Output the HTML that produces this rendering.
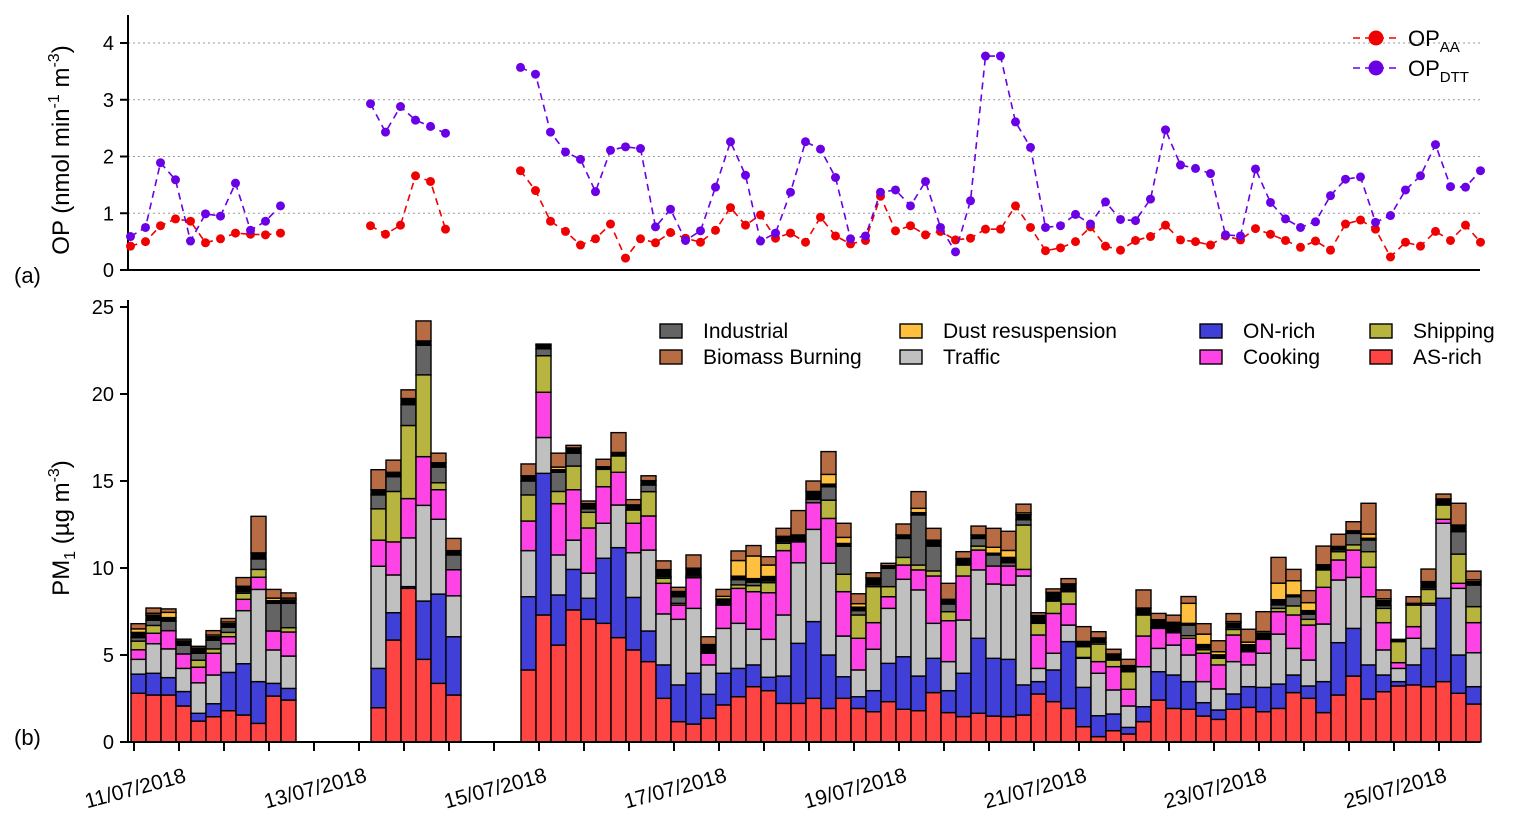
<!DOCTYPE html>
<html><head><meta charset="utf-8">
<style>
html,body{margin:0;padding:0;background:#fff;}
svg{display:block;font-family:"Liberation Sans",Arial,sans-serif;}
</style></head>
<body>
<svg id="chart" width="1522" height="826" viewBox="0 0 1522 826" xmlns="http://www.w3.org/2000/svg">
  <g id="panelA"></g>
  <g id="panelB"></g>
  <text x="14" y="283" font-size="22">(a)</text>
  <text x="14" y="745" font-size="22">(b)</text>
  <text transform="translate(69,150) rotate(-90)" text-anchor="middle" font-size="24">OP (nmol min<tspan dy="-10" font-size="16">-1</tspan><tspan dy="10"> m</tspan><tspan dy="-10" font-size="16">-3</tspan><tspan dy="10">)</tspan></text>
  <text transform="translate(69,528) rotate(-90)" text-anchor="middle" font-size="24">PM<tspan dy="6" font-size="16">1</tspan><tspan dy="-6"> (µg m</tspan><tspan dy="-10" font-size="16">-3</tspan><tspan dy="10">)</tspan></text>
</svg>
<script>
// ---------- data ----------
const barSlots = [0,1,2,3,4,5,6,7,8,9,10,16,17,18,19,20,21].concat(Array.from({length:64},(_,i)=>26+i));
const asRich = [2.8,2.7,2.7,2.07,1.2,1.45,1.8,1.55,1.07,2.64,2.41,
 1.97,5.86,8.83,4.75,3.37,2.7,
 4.14,7.3,5.57,7.59,7.05,6.82,6.0,5.29,4.62,2.51, 1.17,1.03,1.36,2.13,2.6,3.18,2.95,2.22,2.22,2.51, 1.93,2.51,1.93,1.74,2.32,1.88,1.8,2.84,1.69,1.46, 1.65,1.49,1.46,1.55,2.76,2.32,1.93,0.88,0.31,0.65, 0.46,1.17,2.41,1.93,1.88,1.49,1.3,1.88,1.99,1.74, 1.93,2.84,2.51,1.69,2.7,3.79,2.47,2.89,3.22,3.28, 3.18,3.47,2.8,2.18];
const onRich = [1.1,1.25,1.0,0.83,0.45,0.75,2.2,2.95,2.4,0.73,0.67,
 2.26,1.57,0.1,3.35,5.13,3.35,
 4.21,8.14,2.88,2.33,1.21,3.74,5.17,3.02,1.76,1.92, 2.11,2.92,1.38,1.82,1.63,1.25,0.77,1.57,3.45,4.41, 3.07,1.24,0.67,1.21,2.2,3.02,1.99,1.97,1.26,2.49, 4.31,3.32,3.29,1.73,0.71,1.82,3.84,2.26,1.2,0.96, 0.38,0.86,1.63,1.92,1.59,0.77,0.54,0.88,1.19,1.4, 1.4,1.01,0.71,1.78,3.01,2.74,1.96,0.96,0.25,1.15, 2.2,4.79,2.2,1.0];
const traffic = [0.85,1.7,1.65,1.33,1.75,1.65,1.65,3.05,5.3,1.92,1.86,
 5.87,2.17,2.8,5.5,4.3,2.35,
 2.65,2.06,2.3,1.68,1.44,2.01,2.45,2.57,4.65,2.93, 3.77,3.73,1.69,2.58,2.59,2.05,2.18,3.51,4.63,5.3, 5.27,2.34,1.54,2.38,3.16,4.45,4.95,2.01,1.67,3.06, 3.93,4.27,4.27,6.26,0.76,0.96,0.95,1.67,2.44,1.38, 1.23,2.3,1.34,1.72,1.53,1.21,1.21,1.86,1.25,1.96, 2.87,1.53,1.49,3.31,3.6,2.93,3.92,1.44,0.76,1.53, 2.49,4.31,3.83,1.95];
const cooking = [0.55,0.6,1.05,0.83,0.9,1.25,0.4,0.65,0.7,1.09,1.38,
 1.5,1.9,2.26,2.8,1.7,1.5,
 1.7,2.6,2.95,2.9,2.6,2.1,1.88,1.69,1.96,1.76, 0.82,1.76,0.67,1.34,2.01,2.16,2.68,3.7,1.2,1.53, 2.58,2.55,1.82,1.53,0.67,0.82,1.15,2.72,2.35,2.53, 1.14,1.03,1.09,0.38,1.92,2.29,1.21,0.05,0.67,1.34, 0.96,1.76,1.15,0.71,0.96,1.63,1.38,1.53,0.76,0.8, 1.29,1.92,2.01,2.11,1.15,1.57,1.69,1.57,0.33,0.67, 0.1,0.23,0.29,1.73];
const shipping = [0.5,0.45,0,0,0.4,0.25,0.25,0.35,0.45,0,0.25,
 1.8,2.9,4.2,4.7,0.4,0,
 1.5,2.1,0.7,1.36,0.9,1.0,0.94,0.76,1.4,0.29, 0.1,0.05,0,0,0.2,0.35,0.58,0.42,0,0, 1.05,1.0,1.34,2.07,0.58,0.44,0.28,0.29,0.52,0.63, 0.23,0,0,2.55,0.67,0.71,0.71,0.62,1.01,0.38, 1.01,1.21,0.05,0,0.15,0.2,0.38,0.32,0,0, 0.19,0.52,0.33,1.0,0.48,0.3,0.9,0.82,1.21,1.24, 0.8,0.82,1.68,0.92];
const industrial = [0.2,0.3,0.55,0.5,0.4,0.5,0.3,0.1,0.6,1.59,1.4,
 0.8,0.85,1.2,1.7,0.9,0.85,
 0.8,0.4,1.1,0.74,0.2,0,0,0,0.38,0.1, 0.38,0.1,0,0,0.3,0.2,0.1,0.1,0,0.2, 0.77,1.62,0.25,0.1,1.05,1.09,2.88,1.43,0.44,0, 0.44,0.64,0.2,0.3,0,0,0,0,0.1,0, 0,0,0.05,0,0.61,0.1,0,0.1,0,0, 0.2,0.53,0.3,0,0.1,0.66,0.67,0.15,0,0, 0.1,0,1.29,1.24];
const otherBlack = [0.3,0.3,0.2,0.2,0.3,0.2,0.2,0.3,0.35,0.15,0.2,
 0.3,0.25,0.35,0.25,0.25,0.25,
 0.3,0.2,0.15,0.3,0.3,0.15,0.2,0.3,0.25,0.4, 0.3,0.4,0.5,0.35,0.2,0.2,0.25,0.3,0.4,0.45, 0.15,0.15,0.2,0.4,0.15,0.2,0.13,0.34,0.27,0.38, 0.2,0.1,0.3,0.3,0.45,0.5,0.45,0.3,0.25,0.35, 0.35,0.4,0.4,0.6,0.1,0.2,0.2,0.25,0.4,0.35, 0.3,0.1,0.2,0.3,0.2,0.15,0.1,0.3,0.1,0.1, 0.35,0.35,0.38,0.2];
const dust = [0.2,0.1,0.3,0.05,0,0.1,0.1,0,0,0.15,0.1,
 0,0,0,0,0,0,
 0,0,0.15,0,0,0,0,0,0,0, 0,0,0,0.15,0.9,1.3,0.66,0,0,0, 0.56,0.35,0.2,0,0,0,0.25,0,0,0, 0,0.34,0.4,0.1,0,0,0,0,0,0, 0,0,0,0,1.15,0.6,0.18,0.1,0.15,0.1, 0.95,0.82,0.46,0,0,0,0.24,0.1,0,0, 0,0,0,0.1];
const biomass = [0.3,0.3,0.2,0.1,0.1,0.25,0.2,0.5,2.1,0.5,0.3,
 1.15,0.7,0.5,1.15,0.55,0.7,
 0.68,0.07,0.8,0.15,0.15,0.43,1.14,0.3,0.28,0.5, 0.24,0.76,0.45,0.4,0.55,0.6,0.48,0.46,1.4,0.6, 1.31,0.81,0.57,0.3,0.14,0.63,0.96,0.68,0.92,0.39, 0.51,1.09,1.1,0.5,0.16,0.2,0.3,0.85,0.36,0.27, 0.36,1.04,0.36,0.41,0.39,0.6,0.63,0.46,0.74,1.14, 1.48,0.65,0.69,1.07,0.7,0.52,1.77,0.51,0.03,0.38, 0.72,0.28,1.25,0.5];

const N = null;
const opAA = [0.42,0.5,0.78,0.9,0.86,0.48,0.55,0.65,0.63,0.62,0.65, N,N,N,N,N,
 0.78,0.63,0.79,1.66,1.56,0.72, N,N,N,N,
 1.75,1.4,0.86,0.68,0.44,
 0.55,0.81,0.21,0.55,0.48,0.66,0.56,0.49,0.7,1.1, 0.79,0.97,0.56,0.65,0.49,0.93,0.6,0.46,0.52,1.3, 0.69,0.78,0.62,0.68,0.53,0.56,0.72,0.72,1.13,0.75,
 0.34,0.39,0.5,0.76,0.42,0.35,0.52,0.59,0.79,0.53, 0.5,0.44,0.6,0.53,0.73,0.63,0.52,0.4,0.51,0.35, 0.81,0.88,0.72,0.23,0.49,0.42,0.68,0.52,0.79,0.49];
const opDTT = [0.59,0.75,1.89,1.59,0.51,0.99,0.95,1.53,0.70,0.86,1.13, N,N,N,N,N,
 2.93,2.43,2.88,2.64,2.53,2.41, N,N,N,N,
 3.57,3.45,2.43,2.08,1.95,
 1.38,2.11,2.17,2.14,0.76,1.07,0.52,0.69,1.46,2.26, 1.67,0.51,0.65,1.37,2.26,2.13,1.63,0.55,0.6,1.37, 1.41,1.13,1.56,0.75,0.32,1.22,3.77,3.77,2.61,2.16,
 0.75,0.78,0.98,0.81,1.2,0.89,0.87,1.25,2.47,1.85, 1.79,1.7,0.62,0.6,1.78,1.19,0.9,0.75,0.85,1.31, 1.6,1.64,0.84,0.96,1.41,1.66,2.21,1.47,1.46,1.75];

const opTicks = [0,1,2,3,4];
const pmTicks = [0,5,10,15,20,25];
const dateLabels = ["11/07/2018","13/07/2018","15/07/2018","17/07/2018","19/07/2018","21/07/2018","23/07/2018","25/07/2018"];

// ---------- scales ----------
const X0 = 128, X1 = 1480;
const slotX = s => 130.5 + 15*s;
const dayX = d => 134 + 90*d;
const yA = v => 270 - v*56.75;
const yB = v => 742 - v*17.4;
const NS = "http://www.w3.org/2000/svg";
function mk(tag, attrs, parent){ const e=document.createElementNS(NS,tag); for(const k in attrs) e.setAttribute(k,attrs[k]); parent.appendChild(e); return e; }

const gA = document.getElementById('panelA');
const gB = document.getElementById('panelB');

// ---------- panel A ----------
opTicks.forEach(t=>{
  if(t>0){
    const gl = mk('line',{x1:X0,x2:X1,y1:yA(t),y2:yA(t),stroke:'#999','stroke-width':1,'stroke-dasharray':'2,3'},gA);
    
    
  }
  const tk = mk('line',{x1:X0-8,x2:X0,y1:yA(t),y2:yA(t),stroke:'#000','stroke-width':2},gA);
  
  
  const tl = mk('text',{x:X0-14,y:yA(t)+7,'text-anchor':'end','font-size':20},gA);
  tl.textContent = t;
  
  
});
const axA = mk('path',{d:`M${X0},15 V270 H${X1}`,fill:'none',stroke:'#000','stroke-width':2},gA);



function drawSeries(vals,color,name){
  const g = mk('g',{},gA);
  
  
  let d='', pen=false;
  vals.forEach((v,i)=>{
    if(v===null){pen=false;return;}
    d += (pen?'L':'M')+slotX(i)+','+yA(v)+' '; pen=true;
  });
  const p = mk('path',{d:d,fill:'none',stroke:color,'stroke-width':1.6,'stroke-dasharray':'7,5'},g);
  
  
  vals.forEach((v,i)=>{
    if(v===null) return;
    const c = mk('circle',{cx:slotX(i),cy:yA(v),r:4.5,fill:color},g);
    
    
  });
}
drawSeries(opAA,'#f00000','op-aa');
drawSeries(opDTT,'#6a00e6','op-dtt');

// legend A
[['#f00000','AA',38],['#6a00e6','DTT',68]].forEach(([c,sub,y])=>{
  const g = mk('g',{},gA);
  
  
  mk('line',{x1:1353,x2:1397,y1:y,y2:y,stroke:c,'stroke-width':1.6,'stroke-dasharray':'7,5'},g);
  mk('circle',{cx:1376,cy:y,r:7.5,fill:c},g);
  const t = mk('text',{x:1408,y:y+8,'font-size':22},g);
  t.innerHTML = 'OP<tspan dy="6" font-size="15">'+sub+'</tspan>';
});

// ---------- panel B ----------
const comps = [
  {name:'as-rich',vals:asRich,color:'#ff4444'},
  {name:'on-rich',vals:onRich,color:'#4040d8'},
  {name:'traffic',vals:traffic,color:'#c0c0c0'},
  {name:'cooking',vals:cooking,color:'#ff44e6'},
  {name:'shipping',vals:shipping,color:'#b8b440'},
  {name:'industrial',vals:industrial,color:'#646464'},
  {name:'other',vals:otherBlack,color:'#000000'},
  {name:'dust',vals:dust,color:'#ffc040'},
  {name:'biomass',vals:biomass,color:'#b86c44'}
];
const barsG = mk('g',{},gB);


barSlots.forEach((s,i)=>{
  let cum=0;
  const x = slotX(s)+0.5, w = 15;
  comps.forEach(c=>{
    const v=c.vals[i]; if(!v) return;
    const r = mk('rect',{x:x,y:yB(cum+v),width:w,height:v*17.4,fill:c.color,stroke:'#000','stroke-width':1.4},barsG);
    
    
    cum+=v;
  });
});
pmTicks.forEach(t=>{
  const tk = mk('line',{x1:X0-8,x2:X0,y1:yB(t),y2:yB(t),stroke:'#000','stroke-width':2},gB);
  
  
  const tl = mk('text',{x:X0-14,y:yB(t)+7,'text-anchor':'end','font-size':20},gB);
  tl.textContent = t;
  
  
});
const axB = mk('path',{d:`M${X0},300 V742 H${X1}`,fill:'none',stroke:'#000','stroke-width':2},gB);


for(let h=0; dayX(h/2)<=X1; h++){
  const xt = dayX(h/2);
  const tk = mk('line',{x1:xt,x2:xt,y1:743,y2:751,stroke:'#000','stroke-width':2},gB);
  
  
}
dateLabels.forEach((lab,i)=>{
  const xt = dayX(2*i)+3;
  const t = mk('text',{transform:`translate(${xt},795) rotate(-15)`,'text-anchor':'middle','font-size':21},gB);
  t.textContent = lab;
  
  
});

// legend B
const legendItems = [
  ['Industrial','#646464',660,331],['Biomass Burning','#b86c44',660,357],
  ['Dust resuspension','#ffc040',900,331],['Traffic','#c0c0c0',900,357],
  ['ON-rich','#4040d8',1200,331],['Cooking','#ff44e6',1200,357],
  ['Shipping','#b8b440',1370,331],['AS-rich','#ff4444',1370,357]
];
legendItems.forEach(([lab,col,x,y])=>{
  const g = mk('g',{},gB);
  
  
  mk('rect',{x:x,y:y-7,width:22,height:14,fill:col,stroke:'#000','stroke-width':1.4},g);
  const t = mk('text',{x:x+43,y:y+7,'font-size':21},g);
  t.textContent = lab;
});
</script>
</body></html>
